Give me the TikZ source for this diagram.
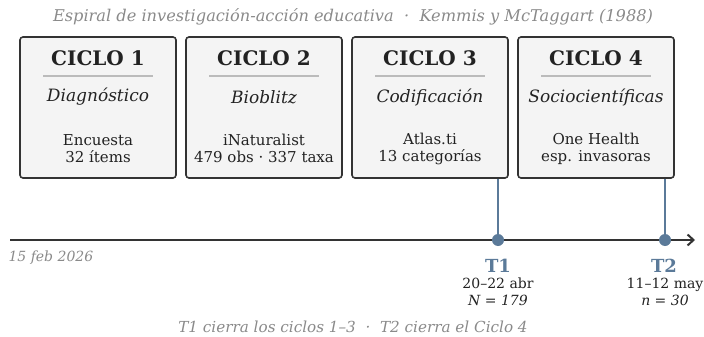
\documentclass[tikz,border=0pt]{standalone}
\usepackage{fontspec}
\setmainfont{DejaVu Serif}
\usetikzlibrary{arrows.meta}

\definecolor{boxfill}{HTML}{F4F4F4}
\definecolor{boxline}{HTML}{333333}
\definecolor{ink}{HTML}{222222}
\definecolor{steel}{HTML}{5B7A99}
\definecolor{muted}{HTML}{8A8A8A}
\definecolor{rule}{HTML}{BBBBBB}

\begin{document}
\begin{tikzpicture}[
    x=1pt, y=-1pt,
    ciclo/.style={draw=boxline, fill=boxfill, line width=1.6pt, rounded corners=3pt,
                  minimum width=156pt, minimum height=141pt, inner sep=0pt},
    head/.style={text=ink, font=\fontsize{20}{24}\selectfont\bfseries},
    sub/.style={text=ink, font=\fontsize{17}{20}\selectfont\itshape},
    detail/.style={text=ink, align=center, font=\fontsize{15}{17}\selectfont},
    sep/.style={draw=rule, line width=1.2pt},
    note/.style={text=muted, font=\fontsize{16.2}{19}\selectfont\itshape},
    dot/.style={circle, fill=steel, minimum size=12pt, inner sep=0pt},
    tick/.style={draw=steel, line width=2.6pt},
    tlab/.style={text=steel, font=\fontsize{18}{21}\selectfont\bfseries},
    when/.style={text=ink, align=center, font=\fontsize{14}{16.5}\selectfont},
    axis/.style={draw=boxline, line width=2pt, -{Straight Barb[length=6pt,width=11pt]}}
]
\useasboundingbox (0,0) rectangle (704,337);

\node[note] (title) at (353,17) {Espiral de investigación-acción educativa \ ·\ \ Kemmis y McTaggart (1988)};

% ciclo 1
\node[ciclo] (c1) at (98,107.5) {};
\node[head] (h1) at (98,58) {CICLO 1};
\draw[sep] (43,76) -- (153,76);
\node[sub] (s1) at (98,97) {Diagnóstico};
\node[detail] (d1) at (98,148.5) {Encuesta\\32 ítems};

% ciclo 2
\node[ciclo] (c2) at (264,107.5) {};
\node[head] (h2) at (264,58) {CICLO 2};
\draw[sep] (209,76) -- (319,76);
\node[sub] (s2) at (264,97) {Bioblitz};
\node[detail] (d2) at (264,148.5) {iNaturalist\\479 obs · 337 taxa};

% ciclo 3
\node[ciclo] (c3) at (430,107.5) {};
\node[head] (h3) at (430,58) {CICLO 3};
\draw[sep] (375,76) -- (485,76);
\node[sub] (s3) at (430,97) {Codificación};
\node[detail] (d3) at (430,148.5) {Atlas.ti\\13 categorías};

% ciclo 4
\node[ciclo] (c4) at (596,107.5) {};
\node[head] (h4) at (596,58) {CICLO 4};
\draw[sep] (541,76) -- (651,76);
\node[sub] (s4) at (596,97) {Sociocientíficas};
\node[detail] (d4) at (596,148.5) {One Health\\esp. invasoras};

% linea de tiempo
\coordinate (axL) at (10,240);
\coordinate (axR) at (695,240);
\draw[axis] (axL) -- (axR);
\node[note, anchor=west, font=\fontsize{14}{16}\selectfont\itshape] (start) at (5,258) {15 feb 2026};

\node[dot] (t1) at (498,240) {};
\node[dot] (t2) at (665,240) {};
\draw[tick] (t1 |- c3.south) -- (t1);
\draw[tick] (t2 |- c4.south) -- (t2);

\node[tlab] (t1l) at (498,266) {T1};
\node[when] (t1w) at (498,292) {20–22 abr\\\textit{N = 179}};
\node[tlab] (t2l) at (664,266) {T2};
\node[when] (t2w) at (665,292) {11–12 may\\\textit{n = 30}};

\node[note, font=\fontsize{15.2}{18}\selectfont\itshape] (foot) at (353,327) {T1 cierra los ciclos 1–3 \ ·\ \ T2 cierra el Ciclo 4};

\end{tikzpicture}
\end{document}
